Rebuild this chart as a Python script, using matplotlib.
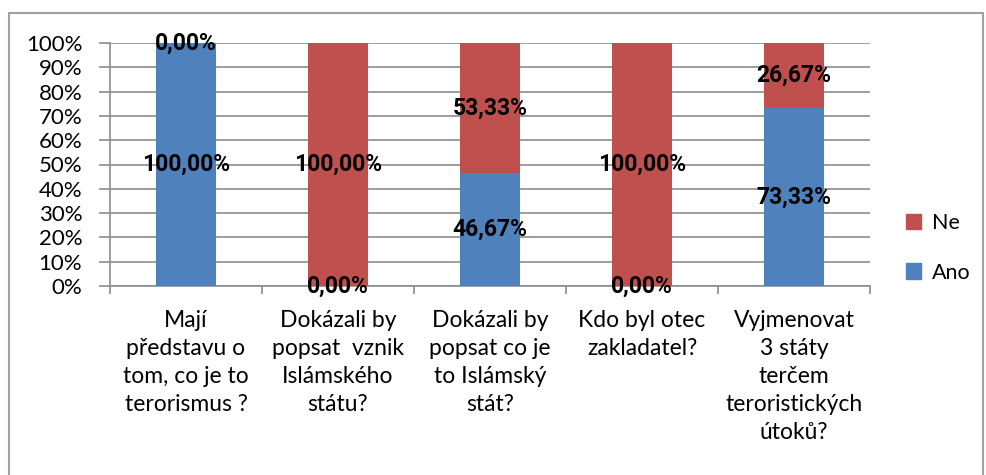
import numpy as np
import matplotlib
matplotlib.use("Agg")
import matplotlib.pyplot as plt
from matplotlib.patches import Rectangle, Patch

plt.rcParams['font.family'] = ['Lato', 'DejaVu Sans']

# data
categories = ["Mají\npředstavu o\ntom, co je to\nterorismus ?",
              "Dokázali by\npopsat  vznik\nIslámského\nstátu?",
              "Dokázali by\npopsat co je\nto Islámský\nstát?",
              "Kdo byl otec\nzakladatel?",
              "Vyjmenovat\n3 státy\nterčem\nteroristických\nútoků?"]
ano = [100.00, 0.00, 46.67, 0.00, 73.33]
ne = [0.00, 100.00, 53.33, 100.00, 26.67]
yticks = [0, 10, 20, 30, 40, 50, 60, 70, 80, 90, 100]

blue = "#4F81BD"
red = "#C0504D"
grid = "#8C8C8C"

fig = plt.figure(figsize=(9.86, 4.75), dpi=100)
ax = fig.add_axes([110/986, 1-286/475, 760/986, 243/475])

x = np.arange(len(categories))
w = 0.395
ax.bar(x, ano, w, color=blue, zorder=3, label="Ano")
ax.bar(x, ne, w, bottom=ano, color=red, zorder=3, label="Ne")

# data labels in the middle of each segment
lab = dict(ha="center", va="center", fontsize=16.5, fontweight="bold",
           family=["Roboto", "DejaVu Sans"], zorder=5)
for i in range(len(categories)):
    ax.text(x[i], ano[i]/2, ("%.2f%%" % ano[i]).replace(".", ","), **lab)
    ax.text(x[i], ano[i]+ne[i]/2, ("%.2f%%" % ne[i]).replace(".", ","), **lab)

ax.set_xlim(-0.5, len(categories)-0.5)
ax.set_ylim(0, 100)
ax.set_yticks(yticks)
ax.set_yticklabels(["%d%%" % t for t in yticks], fontsize=16)
ax.set_xticks(x)
ax.set_xticklabels(categories, fontsize=16.5, linespacing=1.42, va="top")
ax.set_xticks(np.arange(-0.5, len(categories)), minor=True)
ax.tick_params(axis="x", which="major", length=0, pad=17)
ax.tick_params(axis="x", which="minor", length=6, color=grid, width=1.2, direction="out")
ax.tick_params(axis="y", length=8, color=grid, width=1.2, pad=12)
ax.yaxis.grid(True, color=grid, linewidth=1.2, zorder=0)
for s in ["top", "right"]:
    ax.spines[s].set_visible(False)
for s in ["left", "bottom"]:
    ax.spines[s].set_color(grid)
    ax.spines[s].set_linewidth(1.2)

handles = [Patch(color=red, label="Ne"), Patch(color=blue, label="Ano")]
fig.legend(handles=handles, loc="center left", bbox_to_anchor=(906/986, 1-248/475),
           frameon=False, fontsize=15.5, handlelength=0.7, handleheight=0.7,
           handletextpad=0.5, labelspacing=1.35, borderpad=0, borderaxespad=0)

# outer chart frame
fig.patches.append(Rectangle((9/986, -0.02), 974/986, 1.02-13/475, transform=fig.transFigure,
                             fill=False, edgecolor="#A0A0A0", linewidth=1.5))

fig.savefig("out.png", dpi=100)
